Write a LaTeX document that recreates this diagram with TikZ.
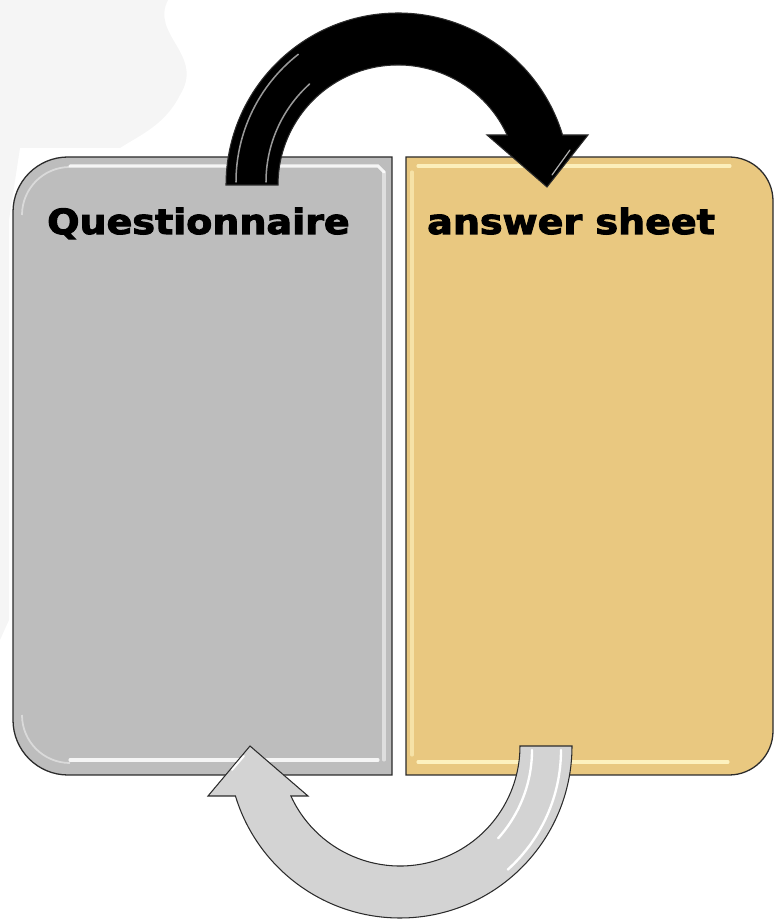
\documentclass[tikz,border=0pt]{standalone}
\usepackage{fontspec}
\newfontfamily\heavyfont{DejaVu Sans}[BoldFeatures={FakeStretch=1.1,FakeBold=3}]
\definecolor{boxgray}{HTML}{BDBDBD}
\definecolor{boxtan}{HTML}{E9C880}
\definecolor{edge}{HTML}{2B2B2B}
\definecolor{arrowgray}{HTML}{D3D3D3}
\definecolor{mapgray}{HTML}{F5F5F5}
\definecolor{tanlight}{HTML}{FFF4C2}
\begin{document}
\begin{tikzpicture}[x=0.03cm, y=0.03cm,
  panel/.style={draw=edge, line width=1.1pt},
  bevel/.style={white, line width=2.6pt, opacity=0.85, line cap=round},
  label/.style={font=\heavyfont\bfseries\fontsize{29.5}{32}\selectfont,
                anchor=base west, inner sep=0pt},
  bigarrow/.style={draw=edge, line width=0.9pt, line join=miter},
  gloss/.style={line width=1.3pt, line cap=round}]
\useasboundingbox (0,0) rectangle (774,920);

% faint map texture in the background
\fill[mapgray] (0,920) -- (168,920) .. controls (150,885) and (205,865) .. (180,825)
  .. controls (165,795) and (140,785) .. (120,772) -- (20,772) -- (9,700) -- (9,300)
  -- (0,280) -- cycle;

% left panel: questionnaire
\path[panel, fill=boxgray] (392,763) -- (68,763) arc[start angle=90, end angle=180, radius=55]
  -- (13,200) arc[start angle=180, end angle=270, radius=55] -- (392,145) -- cycle;
\draw[bevel] (70,754) -- (378,754) -- (384,748);
\draw[bevel, opacity=0.5] (384,748) -- (384,160);
\draw[bevel] (70,160) -- (378,160);
\draw[white, opacity=0.45, line width=1.5pt] (22,205) arc[start angle=180, end angle=270, radius=48];
\draw[white, opacity=0.45, line width=1.5pt] (22,705) arc[start angle=180, end angle=90, radius=48];

% right panel: answer sheet
\path[panel, fill=boxtan] (406,763) -- (729,763) arc[start angle=90, end angle=0, radius=44]
  -- (773,189) arc[start angle=0, end angle=-90, radius=44] -- (406,145) -- cycle;
\draw[bevel, tanlight, opacity=0.9] (418,754) -- (730,754);
\draw[bevel, tanlight, opacity=0.6] (412,748) -- (412,165);
\draw[bevel, tanlight, opacity=0.95] (418,158) -- (728,158);

\node[label] (quest) at (47,686) {Questionnaire};
\node[label] (sheet) at (427,686) {answer sheet};

% upper arrow: black, from the questionnaire over to the answer sheet
\path[bigarrow, fill=black] (226,735) arc[start angle=180, end angle=16.9, radius=172]
  -- (588,785) -- (547,733) -- (487,785) -- (507.1,785)
  arc[start angle=24.62, end angle=180, radius=120] -- cycle;
\draw[gloss, gray!80] (236,738) arc[start angle=180, end angle=128, radius=162];
\draw[gloss, gray!80] (266,738) arc[start angle=180, end angle=132, radius=132];
\draw[gloss, gray!60, line width=1pt] (570,770) -- (552,745);

% lower arrow: light grey, from the answer sheet back to the questionnaire
\path[bigarrow, fill=arrowgray] (572,174) arc[start angle=0, end angle=-163.1, radius=172]
  -- (208,124) -- (250,174) -- (308,124) -- (290.9,124)
  arc[start angle=-155.38, end angle=0, radius=120] -- cycle;
\draw[gloss, white, line width=2pt] (561,170) arc[start angle=0, end angle=-48, radius=161];
\draw[gloss, white, line width=2pt] (532,170) arc[start angle=0, end angle=-42, radius=132];
\draw[gloss, white, line width=1.6pt] (244,164) -- (232,150);
\end{tikzpicture}
\end{document}
